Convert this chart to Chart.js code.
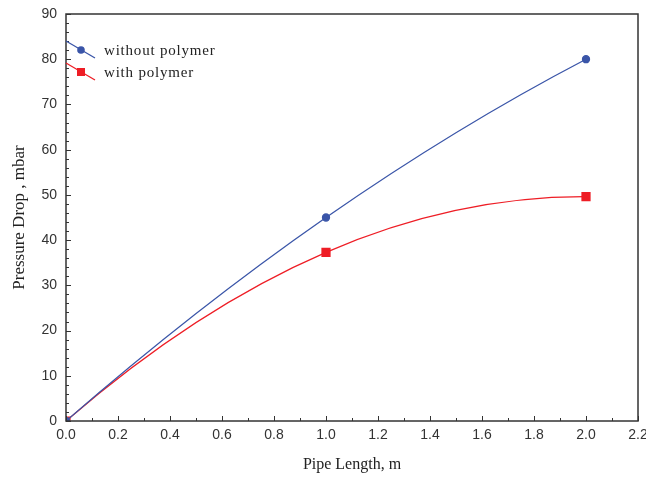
<!DOCTYPE html>
<html>
<head>
<meta charset="utf-8">
<script src="https://cdn.jsdelivr.net/npm/chart.js@4"></script>
<style>
    html, body { margin: 0; padding: 0; background: #fff; }
    #wrap { width: 646px; height: 479px; }
</style>
</head>
<body>
<div id="wrap"><canvas id="chart" width="646" height="479"></canvas></div>
<script>
// Pipe length (m) and pressure drop (mbar)
const pipeLength = [0.0, 1.0, 2.0];
const withoutPolymer = [0, 45, 80];
const withPolymer = [0, 37.3, 49.6];
const seriesNames = ['without polymer', 'with polymer'];
const xTicks = [0.0, 0.2, 0.4, 0.6, 0.8, 1.0, 1.2, 1.4, 1.6, 1.8, 2.0, 2.2];
const yTicks = [0, 10, 20, 30, 40, 50, 60, 70, 80, 90];

const BLUE = '#3a55a8';
const RED = '#ee1d25';
const AXIS = '#333333';

function toPoints(ys) {
    return pipeLength.map((x, i) => ({ x: x, y: ys[i] }));
}

// smooth the line like the original plot: tangents taken from the
// parabola through each point and its neighbours (pixel space)
const smoothPlugin = {
    id: 'smooth',
    beforeDatasetsDraw(chart) {
        chart.data.datasets.forEach((ds, di) => {
            const meta = chart.getDatasetMeta(di);
            const line = meta.dataset;
            const pts = meta.data;
            if (!line || pts.length < 3) return;
            line.updateControlPoints(chart.chartArea);
            const n = pts.length;
            const slope = [];
            for (let i = 0; i < n; i++) {
                const j = Math.min(Math.max(i - 1, 0), n - 3);
                const p0 = pts[j], p1 = pts[j + 1], p2 = pts[j + 2];
                const x = pts[i].x;
                // derivative of Lagrange parabola at x
                const d0 = p0.y * ((x - p1.x) + (x - p2.x)) / ((p0.x - p1.x) * (p0.x - p2.x));
                const d1 = p1.y * ((x - p0.x) + (x - p2.x)) / ((p1.x - p0.x) * (p1.x - p2.x));
                const d2 = p2.y * ((x - p0.x) + (x - p1.x)) / ((p2.x - p0.x) * (p2.x - p1.x));
                slope.push(d0 + d1 + d2);
            }
            for (let i = 0; i < n; i++) {
                const p = pts[i];
                const dxPrev = i > 0 ? (p.x - pts[i - 1].x) / 3 : 0;
                const dxNext = i < n - 1 ? (pts[i + 1].x - p.x) / 3 : 0;
                p.cp1x = p.x - dxPrev;
                p.cp1y = p.y - slope[i] * dxPrev;
                p.cp2x = p.x + dxNext;
                p.cp2y = p.y + slope[i] * dxNext;
            }
        });
    }
};

// inward ticks, box frame and the slanted legend
const framePlugin = {
    id: 'frame',
    afterDraw(chart) {
        const ctx = chart.ctx;
        const a = chart.chartArea;
        const xs = chart.scales.x, ys = chart.scales.y;
        ctx.save();
        ctx.strokeStyle = AXIS;
        ctx.lineWidth = 1.5;
        ctx.strokeRect(a.left, a.top, a.right - a.left, a.bottom - a.top);

        ctx.lineWidth = 1;
        ctx.beginPath();
        for (let v = 0; v <= 2.2001; v += 0.1) {
            const px = Math.round(xs.getPixelForValue(v)) + 0.5;
            const major = Math.abs(v / 0.2 - Math.round(v / 0.2)) < 1e-6;
            ctx.moveTo(px, a.bottom);
            ctx.lineTo(px, a.bottom - (major ? 5 : 3));
        }
        for (let v = 0; v <= 90.001; v += 2) {
            const py = Math.round(ys.getPixelForValue(v)) + 0.5;
            const major = v % 10 === 0;
            ctx.moveTo(a.left, py);
            ctx.lineTo(a.left + (major ? 5 : 3), py);
        }
        ctx.stroke();

        // legend
        const items = [
            { name: seriesNames[0], color: BLUE, y: 50, shape: 'circle' },
            { name: seriesNames[1], color: RED, y: 72, shape: 'rect' }
        ];
        ctx.font = '15px "Liberation Serif", "Times New Roman", serif';
        ctx.textBaseline = 'middle';
        items.forEach(it => {
            ctx.strokeStyle = it.color;
            ctx.fillStyle = it.color;
            ctx.lineWidth = 1.3;
            ctx.beginPath();
            ctx.moveTo(a.left, it.y - 9);
            ctx.lineTo(a.left + 29, it.y + 8);
            ctx.stroke();
            ctx.beginPath();
            if (it.shape === 'circle') {
                ctx.arc(a.left + 15, it.y, 3.8, 0, Math.PI * 2);
                ctx.fill();
            } else {
                ctx.fillRect(a.left + 11, it.y - 4, 8, 8);
            }
            ctx.fillStyle = '#222';
            ctx.letterSpacing = '0.8px';
            ctx.fillText(it.name, a.left + 38, it.y + 1);
            ctx.letterSpacing = '0px';
        });
        ctx.restore();
    }
};

new Chart(document.getElementById('chart'), {
    type: 'line',
    data: {
        datasets: [
            {
                label: seriesNames[0],
                data: toPoints(withoutPolymer),
                borderColor: BLUE,
                backgroundColor: BLUE,
                borderWidth: 1.3,
                pointStyle: 'circle',
                pointRadius: 3.5,
                pointHoverRadius: 3.5,
                tension: 0.4
            },
            {
                label: seriesNames[1],
                data: toPoints(withPolymer),
                borderColor: RED,
                backgroundColor: RED,
                borderWidth: 1.3,
                pointStyle: 'rect',
                pointRadius: 5.6,
                pointHoverRadius: 5.6,
                tension: 0.4
            }
        ]
    },
    options: {
        responsive: false,
        animation: false,
        layout: { padding: { top: 14, right: 8, left: 0, bottom: 0 } },
        plugins: {
            legend: { display: false },
            tooltip: { enabled: false }
        },
        scales: {
            x: {
                type: 'linear',
                min: 0,
                max: 2.2,
                afterBuildTicks(scale) {
                    scale.ticks = xTicks.map(v => ({ value: v }));
                },
                afterFit(scale) {
                    scale.height = 58;
                    scale.paddingLeft = 0;
                    scale.paddingRight = 0;
                },
                grid: { drawOnChartArea: false, drawTicks: false },
                border: { display: false },
                ticks: {
                    padding: 6,
                    color: AXIS,
                    font: { family: '"Liberation Sans", Arial, sans-serif', size: 14 },
                    maxRotation: 0,
                    autoSkip: false,
                    callback: v => v.toFixed(1)
                },
                title: {
                    display: true,
                    text: 'Pipe Length, m',
                    color: '#222',
                    font: { family: '"Liberation Serif", "Times New Roman", serif', size: 16 },
                    padding: { top: 8, bottom: 5 }
                }
            },
            y: {
                min: 0,
                max: 90,
                afterBuildTicks(scale) {
                    scale.ticks = yTicks.map(v => ({ value: v }));
                },
                afterFit(scale) {
                    scale.width = 66;
                    scale.paddingTop = 0;
                    scale.paddingBottom = 0;
                },
                grid: { drawOnChartArea: false, drawTicks: false },
                border: { display: false },
                ticks: {
                    padding: 9,
                    color: AXIS,
                    font: { family: '"Liberation Sans", Arial, sans-serif', size: 14 },
                    autoSkip: false
                },
                title: {
                    display: true,
                    text: 'Pressure Drop , mbar',
                    color: '#222',
                    font: { family: '"Liberation Serif", "Times New Roman", serif', size: 17 },
                    padding: { top: 9, bottom: 0 }
                }
            }
        }
    },
    plugins: [smoothPlugin, framePlugin]
});
</script>
</body>
</html>
